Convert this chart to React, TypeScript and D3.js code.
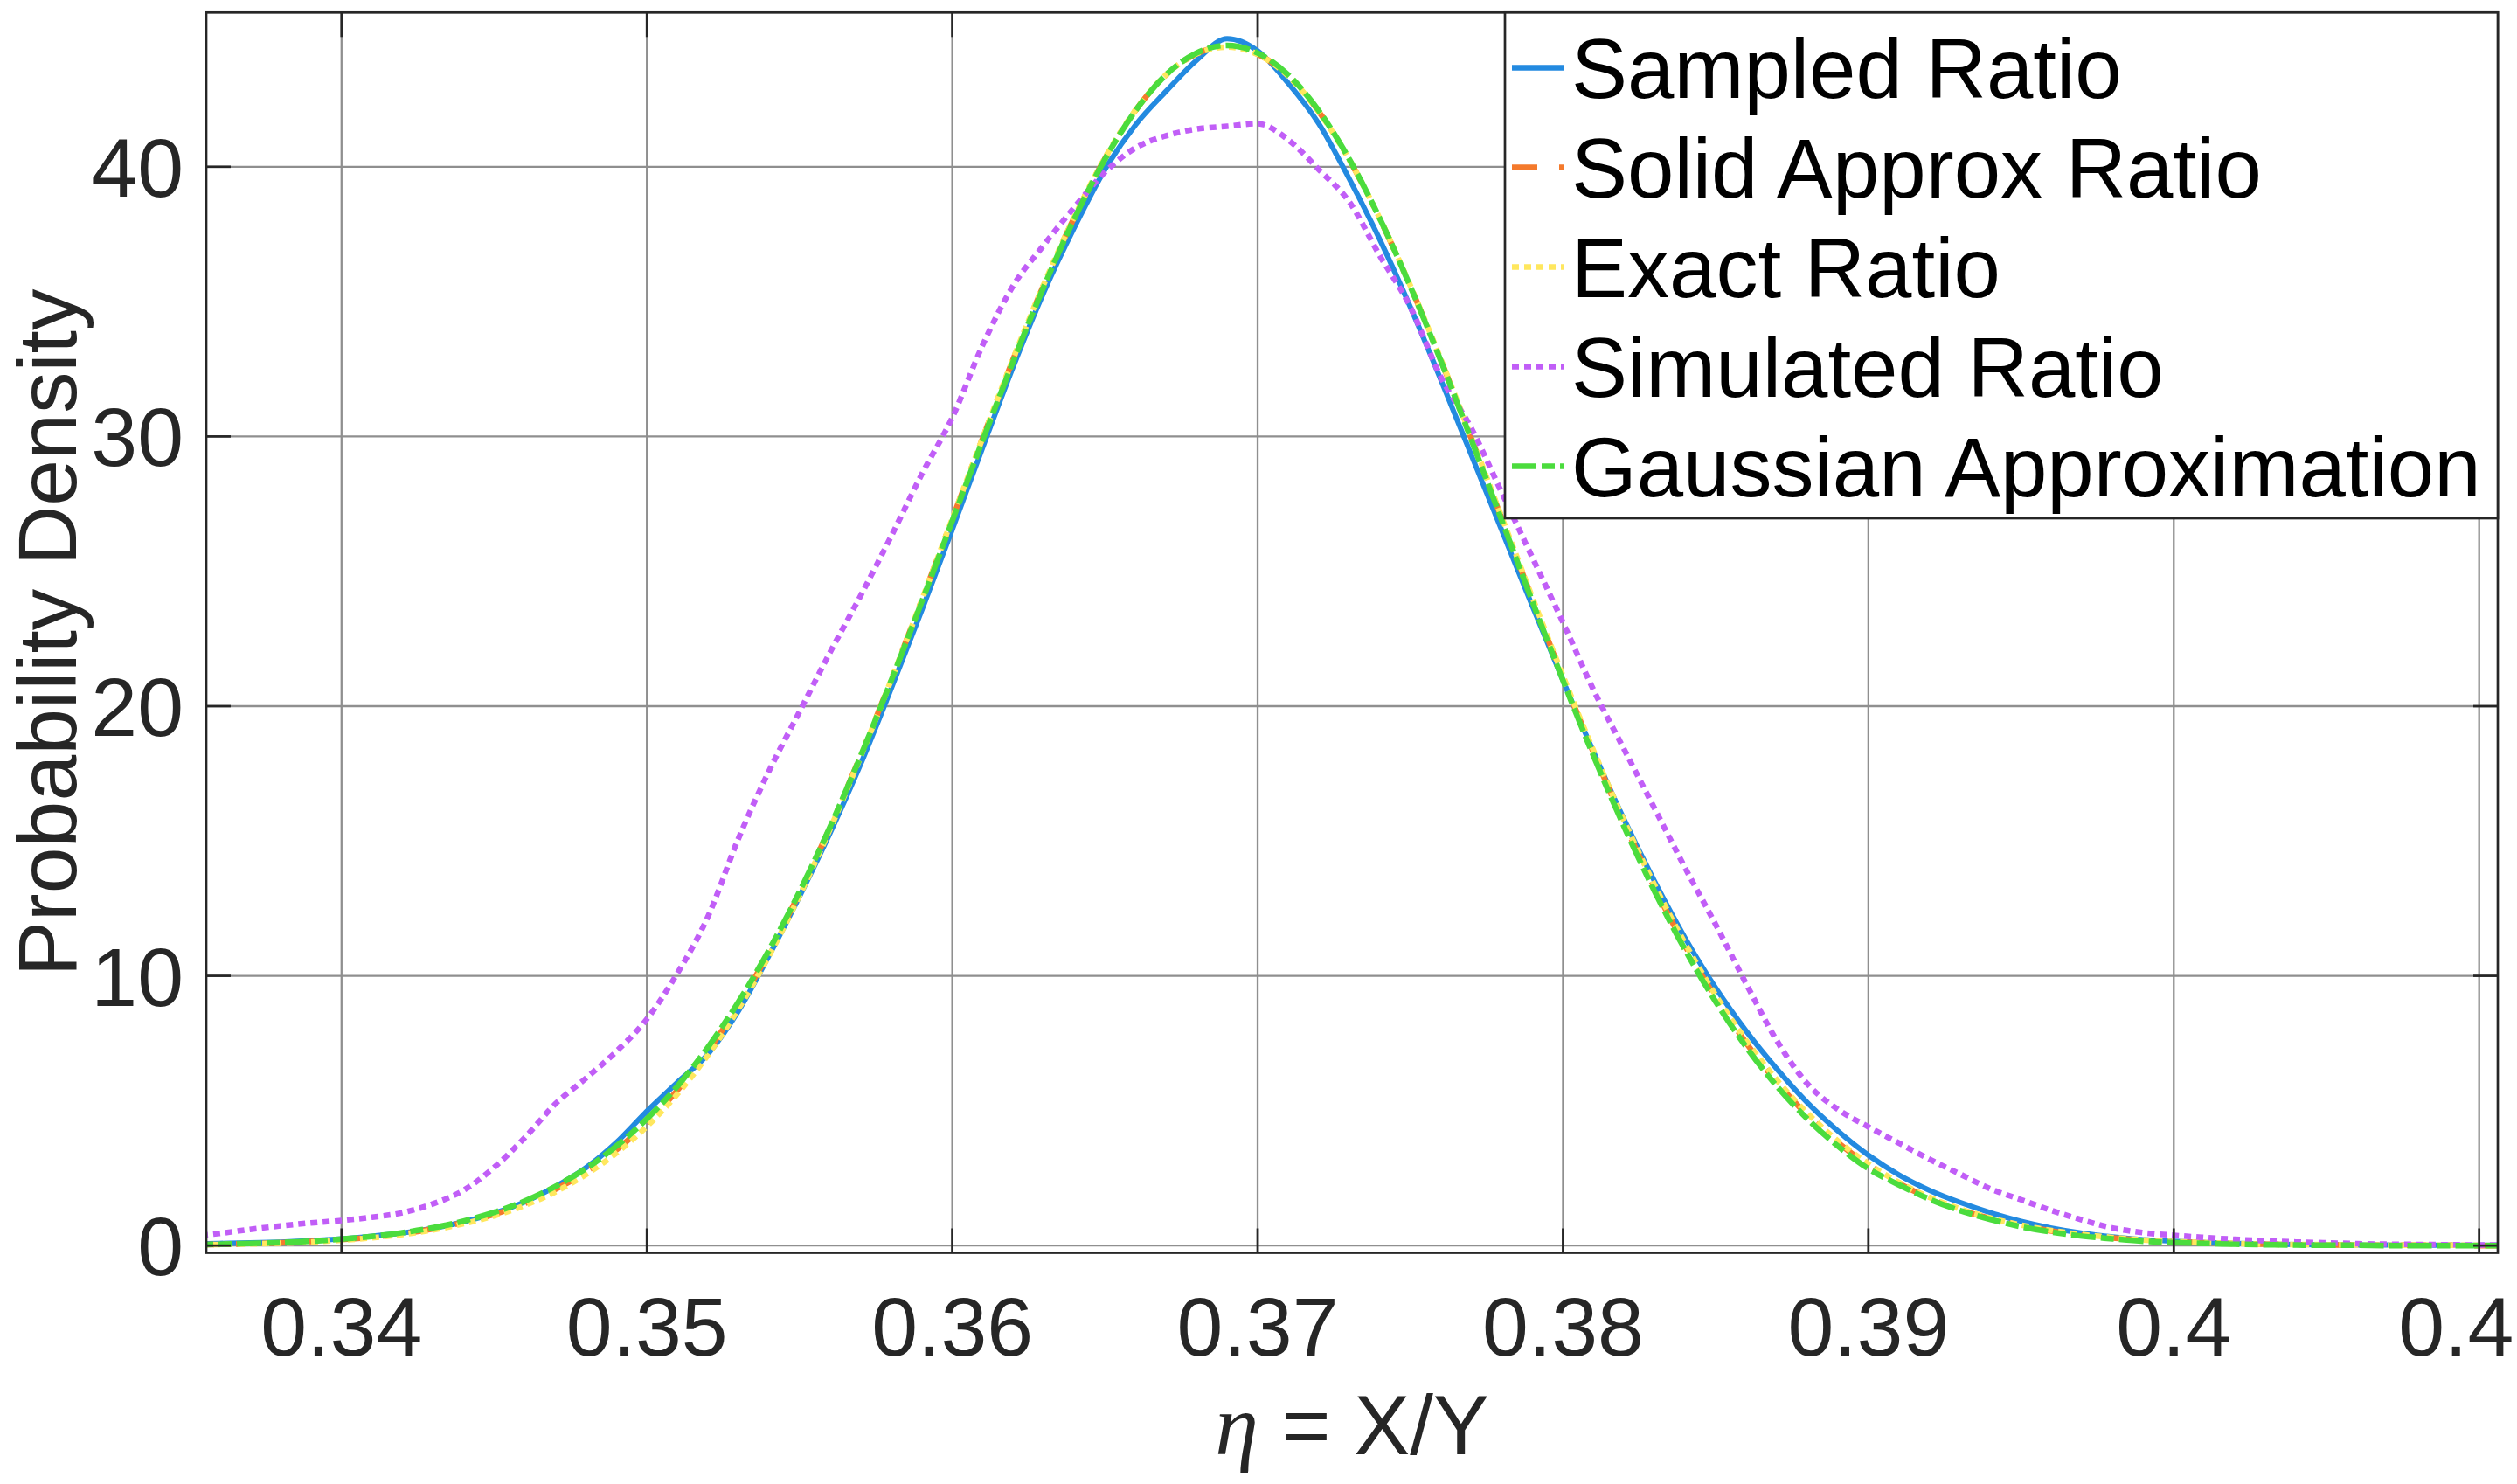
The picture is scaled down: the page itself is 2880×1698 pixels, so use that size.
import React, {useEffect, useRef} from 'react';
import * as d3 from "d3";

// eta sample points, 0.335 .. 0.411 in steps of 0.001
const etaGrid = d3.range(335, 412).map(k => k / 1000);

const sampledRatio = [
    0.06, 0.08, 0.10, 0.13, 0.18, 0.25, 0.35, 0.47, 0.64, 0.88,
    1.20, 1.62, 2.18, 2.88, 3.82, 4.98, 6.05, 7.10, 8.70, 10.75,
    12.95, 15.30, 17.85, 20.65, 23.55, 26.55, 29.60, 32.60, 35.35, 37.75,
    39.90, 41.55, 42.80, 43.95, 44.75, 44.30, 43.10, 41.60, 39.55, 37.30,
    34.80, 32.10, 29.30, 26.50, 23.70, 20.95, 18.30, 15.80, 13.50, 11.40,
    9.55, 7.95, 6.55, 5.30, 4.25, 3.35, 2.62, 2.05, 1.60, 1.22,
    0.90, 0.65, 0.46, 0.32, 0.22, 0.16, 0.11, 0.08, 0.06, 0.04,
    0.03, 0.02, 0.02, 0.01, 0.01, 0.01, 0.01
];

const solidApproxRatio = [
    0.03, 0.04, 0.07, 0.10, 0.15, 0.22, 0.31, 0.44, 0.62, 0.86,
    1.16, 1.56, 2.08, 2.73, 3.55, 4.55, 5.76, 7.21, 8.92, 10.87,
    13.08, 15.52, 18.17, 20.99, 23.93, 26.94, 29.95, 32.88, 35.63, 38.13,
    40.31, 42.09, 43.40, 44.19, 44.45, 44.18, 43.37, 42.05, 40.26, 38.07,
    35.57, 32.83, 29.92, 26.94, 23.96, 21.05, 18.27, 15.66, 13.27, 11.11,
    9.19, 7.51, 6.06, 4.84, 3.82, 2.98, 2.30, 1.76, 1.33, 1.00,
    0.74, 0.54, 0.39, 0.28, 0.20, 0.14, 0.10, 0.07, 0.05, 0.03,
    0.02, 0.02, 0.01, 0.01, 0.01, 0.00, 0.00
];

const exactRatio = [
    0.02, 0.04, 0.06, 0.09, 0.13, 0.20, 0.29, 0.41, 0.58, 0.81,
    1.10, 1.49, 1.99, 2.63, 3.43, 4.42, 5.62, 7.07, 8.78, 10.75,
    12.98, 15.45, 18.13, 20.97, 23.93, 26.95, 29.96, 32.90, 35.65, 38.15,
    40.33, 42.10, 43.41, 44.19, 44.44, 44.17, 43.36, 42.04, 40.26, 38.08,
    35.59, 32.86, 29.96, 26.99, 24.02, 21.12, 18.35, 15.75, 13.36, 11.20,
    9.28, 7.60, 6.14, 4.91, 3.88, 3.03, 2.34, 1.79, 1.36, 1.02,
    0.76, 0.56, 0.41, 0.30, 0.21, 0.15, 0.11, 0.08, 0.05, 0.04,
    0.03, 0.02, 0.01, 0.01, 0.01, 0.01, 0.00
];

const simulatedRatio = [
    0.34, 0.45, 0.60, 0.73, 0.84, 0.93, 1.05, 1.22, 1.55, 2.05,
    2.90, 4.00, 5.25, 6.20, 7.20, 8.40, 10.10, 12.20, 15.10, 17.60,
    19.80, 22.00, 24.10, 26.30, 28.60, 30.70, 33.40, 35.60, 37.10, 38.50,
    39.80, 40.70, 41.15, 41.40, 41.50, 41.60, 41.00, 39.90, 38.70, 36.70,
    34.80, 32.20, 30.30, 27.90, 25.50, 23.10, 20.60, 18.40, 16.20, 14.00,
    11.90, 9.70, 7.60, 6.00, 5.05, 4.40, 3.80, 3.20, 2.65, 2.10,
    1.70, 1.30, 0.95, 0.65, 0.48, 0.38, 0.30, 0.23, 0.18, 0.13,
    0.10, 0.07, 0.05, 0.04, 0.03, 0.02, 0.02
];

const gaussianApprox = [
    0.03, 0.05, 0.08, 0.11, 0.16, 0.24, 0.34, 0.48, 0.66, 0.91,
    1.23, 1.65, 2.19, 2.85, 3.69, 4.70, 5.91, 7.36, 9.04, 10.96,
    13.13, 15.53, 18.15, 20.95, 23.87, 26.87, 29.87, 32.80, 35.56, 38.08,
    40.28, 42.08, 43.41, 44.22, 44.50, 44.22, 43.41, 42.08, 40.28, 38.08,
    35.56, 32.80, 29.87, 26.87, 23.87, 20.95, 18.15, 15.53, 13.13, 10.96,
    9.04, 7.36, 5.91, 4.70, 3.69, 2.85, 2.25, 1.72, 1.30, 0.97,
    0.70, 0.50, 0.35, 0.25, 0.16, 0.11, 0.08, 0.05, 0.03, 0.02,
    0.01, 0.01, 0.00, 0.00, 0.00, 0.00, 0.00
];

const xTicks = [0.34, 0.35, 0.36, 0.37, 0.38, 0.39, 0.40, 0.41];
const xTickLabels = ["0.34", "0.35", "0.36", "0.37", "0.38", "0.39", "0.4", "0.41"];
const yTicks = [0, 10, 20, 30, 40];
const yTickLabels = ["0", "10", "20", "30", "40"];
const legendLabels = ["Sampled Ratio", "Solid Approx Ratio", "Exact Ratio", "Simulated Ratio", "Gaussian Approximation"];

const FONT = "'Liberation Sans', Arial, Helvetica, sans-serif";
const INK = "#262626";

export default function App() {
    const ref = useRef<SVGSVGElement>(null);

    useEffect(() => {
        const svg = d3.select(ref.current);
        svg.selectAll("*").remove();

        const left = 236, right = 2858, top = 14.3, bottom = 1433.5;

        const xScale = d3.scaleLinear().domain([0.33557, 0.41061]).range([left, right]);
        const yScale = d3.scaleLinear().domain([-0.27, 45.72]).range([bottom, top]);

        // style per series, same order as legendLabels
        const series = [
            {values: sampledRatio, color: "#238ae0", dash: null, width: 6},
            {values: solidApproxRatio, color: "#f47a2c", dash: "29,25,5,25", width: 6.5},
            {values: exactRatio, color: "#ffe75e", dash: "8,6", width: 6.5},
            {values: simulatedRatio, color: "#c15ef7", dash: "8,6", width: 6.5},
            {values: gaussianApprox, color: "#4bdc3d", dash: "28,6,15,6", width: 6.5},
        ];

        svg.append("rect").attr("width", 2880).attr("height", 1698).attr("fill", "#fff");

        svg.append("clipPath").attr("id", "plot-clip")
            .append("rect")
            .attr("x", left).attr("y", top)
            .attr("width", right - left).attr("height", bottom - top);

        //grid
        const grid = svg.append("g").attr("stroke", "#8f8f8f").attr("stroke-width", 2.3);
        xTicks.forEach(t => {
            grid.append("line")
                .attr("x1", xScale(t)).attr("x2", xScale(t))
                .attr("y1", top).attr("y2", bottom);
        });
        yTicks.forEach(t => {
            grid.append("line")
                .attr("x1", left).attr("x2", right)
                .attr("y1", yScale(t)).attr("y2", yScale(t));
        });

        //curves
        const line = d3.line<number>()
            .x((_, i) => xScale(etaGrid[i]))
            .y(d => yScale(d))
            .curve(d3.curveMonotoneX);

        const curves = svg.append("g").attr("clip-path", "url(#plot-clip)");
        series.forEach(s => {
            curves.append("path")
                .attr("d", line(s.values))
                .attr("fill", "none")
                .attr("stroke", s.color)
                .attr("stroke-width", s.width)
                .attr("stroke-dasharray", s.dash)
                .attr("stroke-linejoin", "round");
        });

        //box and ticks
        svg.append("rect")
            .attr("x", left).attr("y", top)
            .attr("width", right - left).attr("height", bottom - top)
            .attr("fill", "none").attr("stroke", INK).attr("stroke-width", 2.7);

        const ticks = svg.append("g").attr("stroke", INK).attr("stroke-width", 2.7);
        const tickLen = 28;
        xTicks.forEach(t => {
            const x = xScale(t);
            ticks.append("line").attr("x1", x).attr("x2", x).attr("y1", bottom).attr("y2", bottom - tickLen);
            ticks.append("line").attr("x1", x).attr("x2", x).attr("y1", top).attr("y2", top + tickLen);
        });
        yTicks.forEach(t => {
            const y = yScale(t);
            ticks.append("line").attr("x1", left).attr("x2", left + tickLen).attr("y1", y).attr("y2", y);
            ticks.append("line").attr("x1", right).attr("x2", right - tickLen).attr("y1", y).attr("y2", y);
        });

        //tick labels
        svg.append("g").selectAll("text")
            .data(xTicks)
            .join("text")
            .attr("x", d => xScale(d))
            .attr("y", 1551)
            .attr("text-anchor", "middle")
            .attr("font-family", FONT)
            .attr("font-size", 95)
            .attr("fill", INK)
            .text((_, i) => xTickLabels[i]);

        svg.append("g").selectAll("text")
            .data(yTicks)
            .join("text")
            .attr("x", 210)
            .attr("y", d => yScale(d) + 34)
            .attr("text-anchor", "end")
            .attr("font-family", FONT)
            .attr("font-size", 95)
            .attr("fill", INK)
            .text((_, i) => yTickLabels[i]);

        //axis labels
        svg.append("text")
            .attr("transform", `translate(87, ${(top + bottom) / 2}) rotate(-90)`)
            .attr("text-anchor", "middle")
            .attr("font-family", FONT)
            .attr("font-size", 95)
            .attr("fill", INK)
            .text("Probability Density");

        const xLabel = svg.append("text")
            .attr("x", (left + right) / 2)
            .attr("y", 1664)
            .attr("text-anchor", "middle")
            .attr("font-family", FONT)
            .attr("font-size", 96)
            .attr("fill", INK);
        xLabel.append("tspan")
            .attr("font-family", "'Liberation Serif', 'DejaVu Serif', serif")
            .attr("font-style", "italic")
            .attr("font-size", 100)
            .text("η");
        xLabel.append("tspan").text(" = X/Y");

        //legend
        const legend = svg.append("g");
        legend.append("rect")
            .attr("x", 1722).attr("y", top)
            .attr("width", right - 1722).attr("height", 593 - top)
            .attr("fill", "#fff").attr("stroke", INK).attr("stroke-width", 2.7);

        series.forEach((s, i) => {
            const cy = 77.5 + i * 114;
            legend.append("line")
                .attr("x1", 1730).attr("x2", 1790)
                .attr("y1", cy).attr("y2", cy)
                .attr("stroke", s.color)
                .attr("stroke-width", 6.5)
                .attr("stroke-dasharray", s.dash);
            legend.append("text")
                .attr("x", 1798)
                .attr("y", cy + 34.5)
                .attr("font-family", FONT)
                .attr("font-size", 96)
                .attr("fill", "#000")
                .text(legendLabels[i]);
        });
    }, []);

    return (
        <svg ref={ref} width={2880} height={1698}
             style={{position: "absolute", left: 0, top: 0, overflow: "hidden"}}/>
    );
}
